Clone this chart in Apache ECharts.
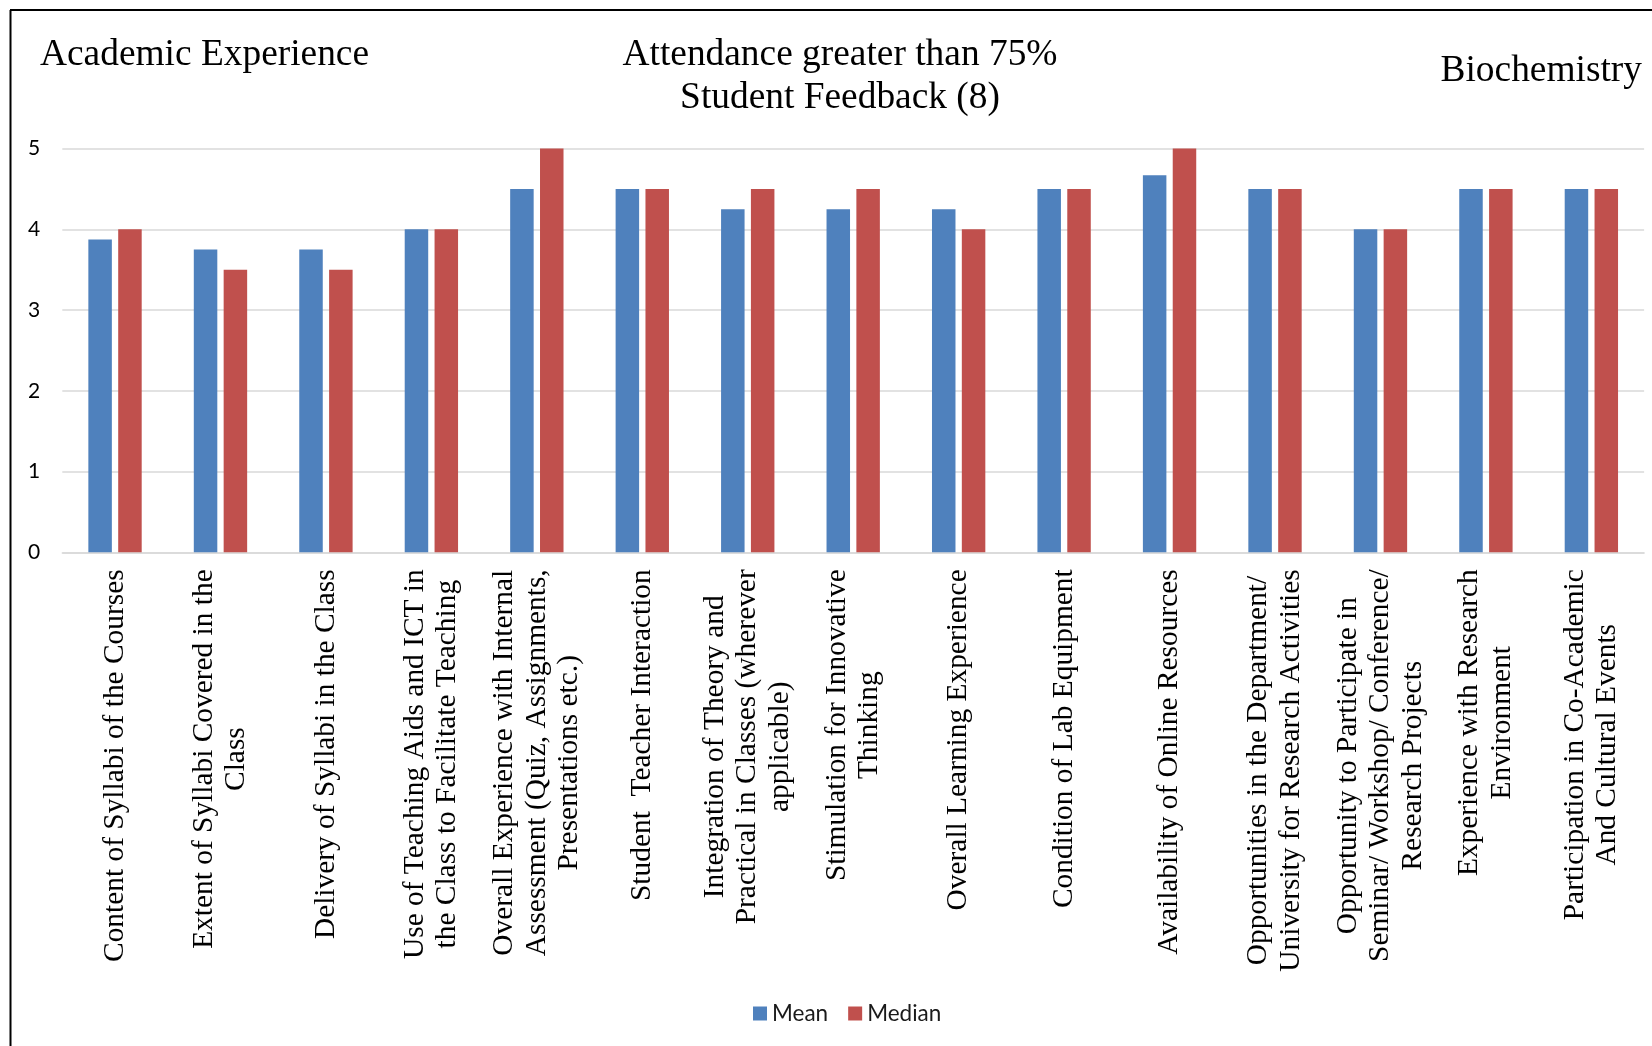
<!DOCTYPE html>
<html><head><meta charset="utf-8">
<script src="https://cdn.jsdelivr.net/npm/echarts@6/dist/echarts.min.js"></script>
<style>html,body{margin:0;padding:0;background:#fff}#c{width:1652px;height:1046px}</style>
</head><body><div id="c"></div>
<script>
const categories = [
  "Content of Syllabi of the Courses",
  "Extent of Syllabi Covered in the\nClass",
  "Delivery of Syllabi in the Class",
  "Use of Teaching Aids and ICT in\nthe Class to Facilitate Teaching",
  "Overall Experience with Internal\nAssessment (Quiz, Assignments,\nPresentations etc.)",
  "Student  Teacher Interaction",
  "Integration of Theory and\nPractical in Classes (wherever\napplicable)",
  "Stimulation for Innovative\nThinking",
  "Overall Learning Experience",
  "Condition of Lab Equipment",
  "Availability of Online Resources",
  "Opportunities in the Department/\nUniversity for Research Activities",
  "Opportunity to Participate in\nSeminar/ Workshop/ Conference/\nResearch Projects",
  "Experience with Research\nEnvironment",
  "Participation in Co-Academic\nAnd Cultural Events"
];
const meanValues   = [3.875, 3.75, 3.75, 4, 4.5, 4.5, 4.25, 4.25, 4.25, 4.5, 4.67, 4.5, 4, 4.5, 4.5];
const medianValues = [4,     3.5,  3.5,  4, 5,   4.5, 4.5,  4.5,  4,    4.5, 5,    4.5, 4, 4.5, 4.5];
const seriesNames = ["Mean", "Median"];
const titleLeft = "Academic Experience";
const titleCenter = "Attendance greater than 75%\nStudent Feedback (8)";
const titleRight = "Biochemistry";

const serif = "'Liberation Serif', 'Times New Roman', serif";
const sans = "Lato, 'Open Sans', sans-serif";

const chart = echarts.init(document.getElementById('c'));
chart.setOption({
  animation: false,
  backgroundColor: '#fff',
  title: [
    { text: titleLeft, left: 40, top: 34, padding: 0,
      textStyle: { fontFamily: serif, fontSize: 37.4, fontWeight: 'normal', color: '#000', lineHeight: 42 } },
    { text: titleCenter, left: 840, top: 34, padding: 0, textAlign: 'center',
      textStyle: { fontFamily: serif, fontSize: 37.4, fontWeight: 'normal', color: '#000', lineHeight: 43 } },
    { text: titleRight, right: 10, top: 50, padding: 0,
      textStyle: { fontFamily: serif, fontSize: 37.4, fontWeight: 'normal', color: '#000', lineHeight: 42 } }
  ],
  legend: {
    data: seriesNames,
    left: 748, top: 997,
    itemWidth: 14, itemHeight: 14, itemGap: 20,
    icon: 'rect',
    textStyle: { fontFamily: sans, fontSize: 22.5, color: '#1a1a1a' }
  },
  grid: { left: 62.3, right: 7.9, top: 148.6, bottom: 493.7, containLabel: false },
  xAxis: {
    type: 'category',
    data: categories,
    axisLine: { lineStyle: { color: '#d9d9d9', width: 1.5 } },
    axisTick: { show: false },
    axisLabel: {
      interval: 0, rotate: 90, margin: 17, hideOverlap: false,
      formatter: v => v.split('\n').map(l => '{c|' + l + '}').join('\n'),
      rich: { c: { align: 'center', fontFamily: serif, fontSize: 29.4, lineHeight: 32.5, color: '#000' } }
    }
  },
  yAxis: {
    type: 'value', min: 0, max: 5, interval: 1,
    axisLine: { show: false }, axisTick: { show: false },
    axisLabel: { margin: 22, fontFamily: sans, fontSize: 21, color: '#000' },
    splitLine: { lineStyle: { color: '#d9d9d9', width: 1.5 } }
  },
  series: [
    { name: seriesNames[0], type: 'bar', data: meanValues, barWidth: 23.5, barGap: '27%',
      itemStyle: { color: '#4F81BD' } },
    { name: seriesNames[1], type: 'bar', data: medianValues, barWidth: 23.5, barGap: '27%',
      itemStyle: { color: '#C0504D' } }
  ],
  graphic: [
    { type: 'line', shape: { x1: 10.5, y1: 10, x2: 10.5, y2: 1046 }, style: { stroke: '#000', lineWidth: 2 } },
    { type: 'line', shape: { x1: 10, y1: 10, x2: 1652, y2: 10 }, style: { stroke: '#000', lineWidth: 2 } }
  ]
});
</script></body></html>
